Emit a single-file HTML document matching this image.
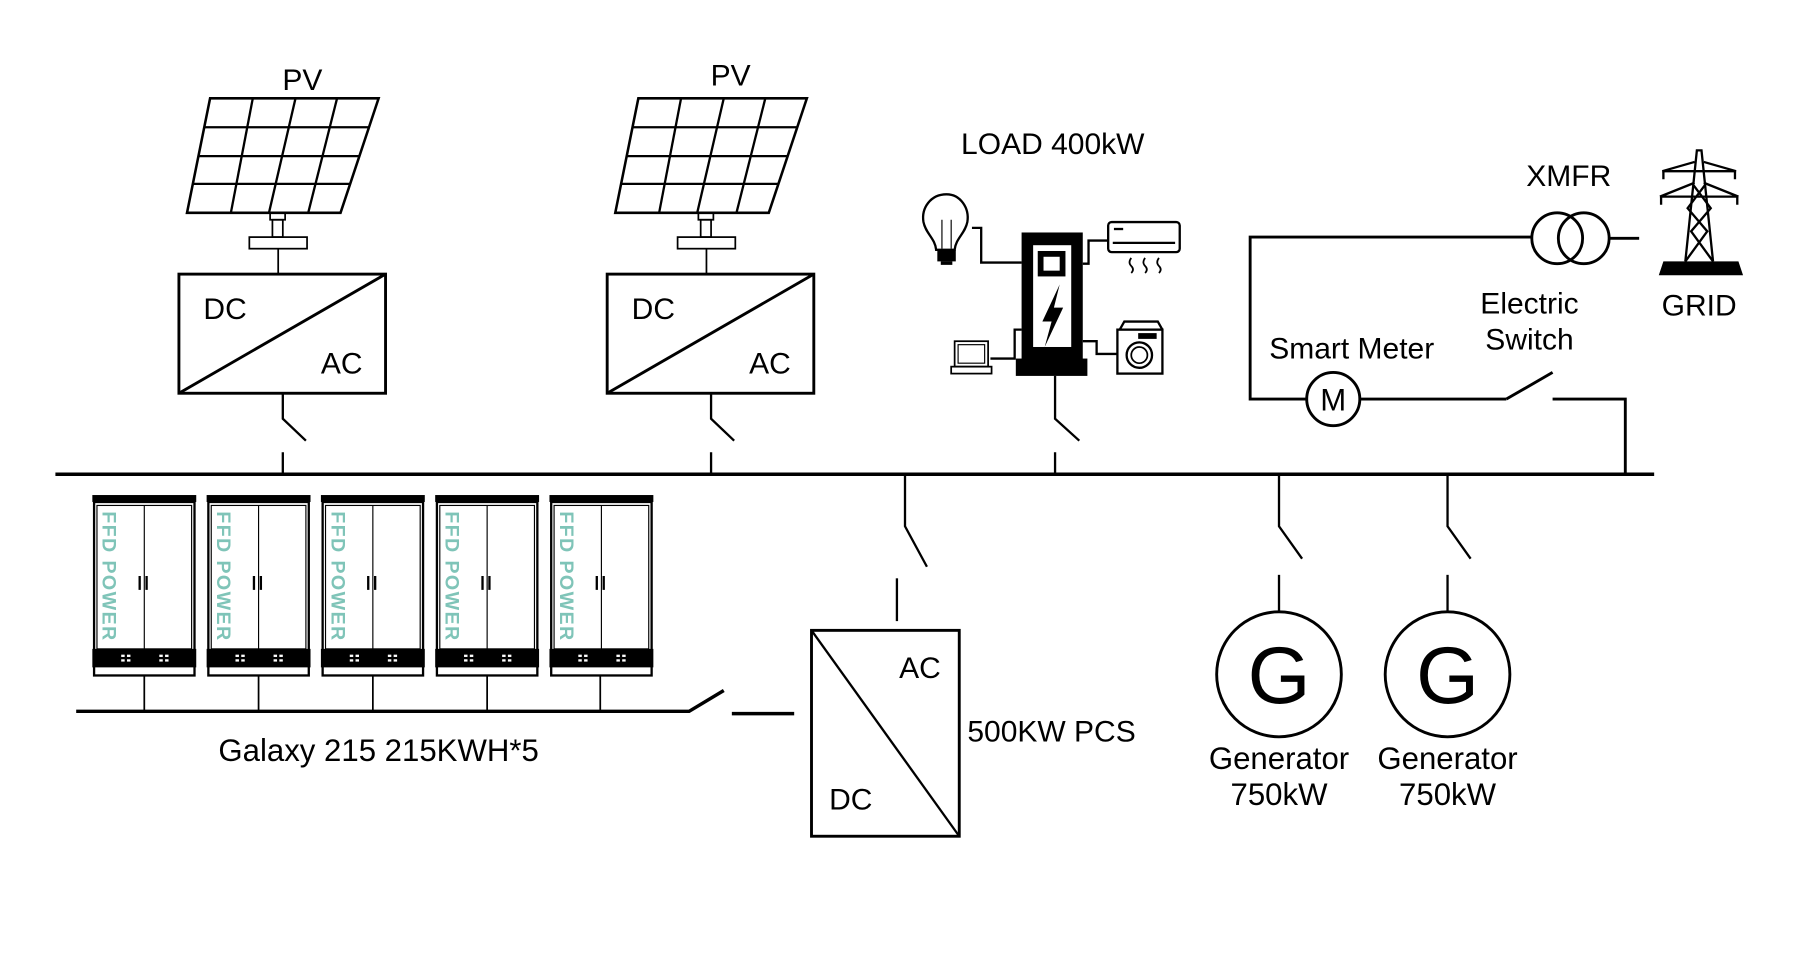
<!DOCTYPE html>
<html><head><meta charset="utf-8"><style>
html,body{margin:0;padding:0;background:#fff;}
svg{display:block;}
text{font-family:"Liberation Sans",sans-serif;fill:#000;}
</style></head><body>
<svg width="1810" height="960" viewBox="0 0 1568 830" preserveAspectRatio="none" xmlns="http://www.w3.org/2000/svg">
<defs>
<g id="panel">
  <polygon points="20,0 166,0 133,99 0,99" fill="none" stroke="#000" stroke-width="2.2"/>
  <line x1="15" y1="25" x2="158" y2="25" stroke="#000" stroke-width="2"/>
  <line x1="10" y1="50" x2="149" y2="50" stroke="#000" stroke-width="2"/>
  <line x1="5" y1="74" x2="141" y2="74" stroke="#000" stroke-width="2"/>
  <line x1="57" y1="0" x2="38" y2="99" stroke="#000" stroke-width="2"/>
  <line x1="94" y1="0" x2="71" y2="99" stroke="#000" stroke-width="2"/>
  <line x1="130" y1="0" x2="105" y2="99" stroke="#000" stroke-width="2"/>
  <rect x="72" y="99" width="13" height="6" fill="none" stroke="#000" stroke-width="1.5"/>
  <rect x="74" y="105" width="9" height="15" fill="none" stroke="#000" stroke-width="1.5"/>
  <rect x="54" y="120" width="50" height="10" fill="none" stroke="#000" stroke-width="1.5"/>
  <line x1="79" y1="130" x2="79" y2="152" stroke="#000" stroke-width="1.5"/>
</g>
<g id="cab">
  <rect x="0" y="0" width="90" height="6" fill="#000"/>
  <rect x="1.5" y="6" width="87" height="150" fill="#fff" stroke="#000" stroke-width="2"/>
  <rect x="4" y="9" width="82" height="124" fill="#fff" stroke="#000" stroke-width="1"/>
  <line x1="45" y1="9" x2="45" y2="133" stroke="#000" stroke-width="1"/>
  <rect x="40" y="70" width="2" height="12" fill="#000"/>
  <rect x="46" y="70" width="2" height="12" fill="#000"/>
  <rect x="0" y="133" width="90" height="16" fill="#000"/>
  <g fill="#fff"><rect x="25" y="138" width="3" height="2"/><rect x="30" y="138" width="3" height="2"/><rect x="25" y="142" width="3" height="2"/><rect x="30" y="142" width="3" height="2"/>
  <rect x="58" y="138" width="3" height="2"/><rect x="63" y="138" width="3" height="2"/><rect x="58" y="142" width="3" height="2"/><rect x="63" y="142" width="3" height="2"/></g>
  <text transform="translate(9,14) rotate(90)" font-size="17" font-weight="bold" style="fill:#7fc4b8" letter-spacing="1.2">FFD POWER</text>
</g>
</defs>

<g stroke="#000" fill="none">
<line x1="48" y1="410" x2="1433" y2="410" stroke-width="3"/>

<use href="#panel" x="162" y="85"/>
<rect x="155" y="237" width="179" height="103" stroke-width="2.5"/>
<line x1="155" y1="340" x2="334" y2="237" stroke-width="2.5"/>
<polyline points="245,340 245,362 265,381" stroke-width="2"/>
<line x1="245" y1="391" x2="245" y2="410" stroke-width="2"/>

<use href="#panel" x="533" y="85"/>
<rect x="526" y="237" width="179" height="103" stroke-width="2.5"/>
<line x1="526" y1="340" x2="705" y2="237" stroke-width="2.5"/>
<polyline points="616,340 616,362 636,381" stroke-width="2"/>
<line x1="616" y1="391" x2="616" y2="410" stroke-width="2"/>

<polyline points="914,325 914,362 935,381" stroke-width="2"/>
<line x1="914" y1="391" x2="914" y2="410" stroke-width="2"/>
<path d="M842,197 h8 v30 h35" stroke-width="2"/>
<path d="M938,228 h5 v-20 h17" stroke-width="2"/>
<path d="M885,285 h-6 v25 h-21" stroke-width="2"/>
<path d="M938,295 h12 v11 h18" stroke-width="2"/>
<path d="M820,168 c-14,0 -22,12 -20,24 c2,10 10,14 11,24 h16 c1,-10 9,-14 11,-24 c2,-12 -6,-24 -18,-24z" stroke-width="2"/>
<rect x="812" y="216" width="16" height="10" fill="#000" stroke="none"/>
<rect x="815" y="226" width="10" height="3" fill="#000" stroke="none"/>
<line x1="816" y1="190" x2="816" y2="215" stroke-width="1"/>
<line x1="824" y1="190" x2="824" y2="215" stroke-width="1"/>
<rect x="960" y="192" width="62" height="26" rx="3" stroke-width="2"/>
<line x1="964" y1="210" x2="1018" y2="210" stroke-width="2"/>
<rect x="965" y="197" width="8" height="2" fill="#000" stroke="none"/>
<path d="M980,223 q-3,4 0,7 q3,3 0,6 M992,223 q-3,4 0,7 q3,3 0,6 M1004,223 q-3,4 0,7 q3,3 0,6" stroke-width="1.5"/>
<rect x="827" y="295" width="29" height="22" stroke-width="1.5"/>
<rect x="830" y="298" width="23" height="16" stroke-width="1"/>
<rect x="824" y="317" width="35" height="6" stroke-width="1.5"/>
<rect x="968" y="285" width="39" height="38" stroke-width="2"/>
<path d="M970,285 l4,-7 h29 l4,7" stroke-width="2"/>
<rect x="986" y="288" width="16" height="5" fill="#000" stroke="none"/>
<circle cx="987" cy="307" r="11" stroke-width="2"/>
<circle cx="987" cy="307" r="7" stroke-width="1.5"/>
</g>
<rect x="885" y="201" width="53" height="110" fill="#000"/>
<rect x="880" y="310" width="62" height="15" fill="#000"/>
<rect x="895" y="212" width="33" height="88" fill="#fff"/>
<rect x="899" y="217" width="24" height="22" fill="#000"/>
<rect x="904" y="222" width="14" height="12" fill="#fff"/>
<polygon points="918,246 903,278 911,278 905,300 921,266 913,266" fill="#000"/>

<text x="912" y="133" font-size="26" text-anchor="middle">LOAD 400kW</text>
<text x="262" y="78" font-size="26" text-anchor="middle">PV</text>
<text x="633" y="74" font-size="26" text-anchor="middle">PV</text>
<text x="195" y="276" font-size="26" text-anchor="middle">DC</text>
<text x="296" y="323" font-size="26" text-anchor="middle">AC</text>
<text x="566" y="276" font-size="26" text-anchor="middle">DC</text>
<text x="667" y="323" font-size="26" text-anchor="middle">AC</text>

<g stroke="#000" fill="none" stroke-width="2.5">
<polyline points="1327,205 1083,205 1083,345 1132,345"/>
<circle cx="1155" cy="345" r="23"/>
<line x1="1178" y1="345" x2="1305" y2="345"/>
<line x1="1305" y1="345" x2="1345" y2="322"/>
<polyline points="1345,345 1408,345 1408,410"/>
<circle cx="1349" cy="206" r="22"/>
<circle cx="1372" cy="206" r="22"/>
<line x1="1394" y1="206" x2="1420" y2="206"/>
</g>
<text x="1155" y="355" font-size="27" text-anchor="middle">M</text>
<text x="1359" y="161" font-size="26" text-anchor="middle">XMFR</text>
<text x="1325" y="271" font-size="26" text-anchor="middle">Electric</text>
<text x="1325" y="302" font-size="26" text-anchor="middle">Switch</text>
<text x="1171" y="310" font-size="26" text-anchor="middle">Smart Meter</text>
<text x="1472" y="273" font-size="26" text-anchor="middle">GRID</text>
<g stroke="#000" fill="none" stroke-width="2">
<polyline points="1460,226 1470,130 1474,130 1484,226"/>
<path d="M1467,160 l15,20 l-17,20 l19,26 M1477,160 l-15,20 l17,20 l-19,26"/>
<path d="M1440,148 l28,-8 M1476,140 l28,8 M1440,148 h64 M1438,170 l30,-12 M1476,158 l30,12 M1438,170 h68"/>
<path d="M1441,148 v7 M1503,148 v7 M1439,170 v7 M1505,170 v7"/>
</g>
<polygon points="1437,238 1510,238 1506,226 1441,226" fill="#000"/>

<g stroke="#000" fill="none" stroke-width="2">
<polyline points="784,410 784,455 803,490"/>
<line x1="777" y1="500" x2="777" y2="537"/>
<rect x="703" y="545" width="128" height="178" stroke-width="2.5"/>
<line x1="703" y1="545" x2="831" y2="723"/>
</g>
<text x="797" y="586" font-size="26" text-anchor="middle">AC</text>
<text x="737" y="700" font-size="26" text-anchor="middle">DC</text>
<text x="838" y="641" font-size="26">500KW PCS</text>

<g stroke="#000" fill="none" stroke-width="2">
<polyline points="1108,410 1108,455 1128,483"/>
<line x1="1108" y1="497" x2="1108" y2="530"/>
<circle cx="1108" cy="583" r="54" stroke-width="2.5"/>
<polyline points="1254,410 1254,455 1274,483"/>
<line x1="1254" y1="497" x2="1254" y2="530"/>
<circle cx="1254" cy="583" r="54" stroke-width="2.5"/>
</g>
<text x="1108" y="608" font-size="70" text-anchor="middle">G</text>
<text x="1254" y="608" font-size="70" text-anchor="middle">G</text>
<text x="1108" y="665" font-size="27" text-anchor="middle">Generator</text>
<text x="1108" y="696" font-size="27" text-anchor="middle">750kW</text>
<text x="1254" y="665" font-size="27" text-anchor="middle">Generator</text>
<text x="1254" y="696" font-size="27" text-anchor="middle">750kW</text>

<use href="#cab" x="80" y="428"/>
<use href="#cab" x="179" y="428"/>
<use href="#cab" x="278" y="428"/>
<use href="#cab" x="377" y="428"/>
<use href="#cab" x="476" y="428"/>
<g stroke="#000" fill="none" stroke-width="1.5">
<line x1="125" y1="584" x2="125" y2="615"/>
<line x1="224" y1="584" x2="224" y2="615"/>
<line x1="323" y1="584" x2="323" y2="615"/>
<line x1="422" y1="584" x2="422" y2="615"/>
<line x1="520" y1="584" x2="520" y2="615"/>
</g>
<g stroke="#000" fill="none" stroke-width="3">
<polyline points="66,615 597,615 627,597"/>
<line x1="634" y1="617" x2="688" y2="617"/>
</g>
<text x="328" y="658" font-size="27" text-anchor="middle">Galaxy 215 215KWH*5</text>
</svg>
</body></html>
